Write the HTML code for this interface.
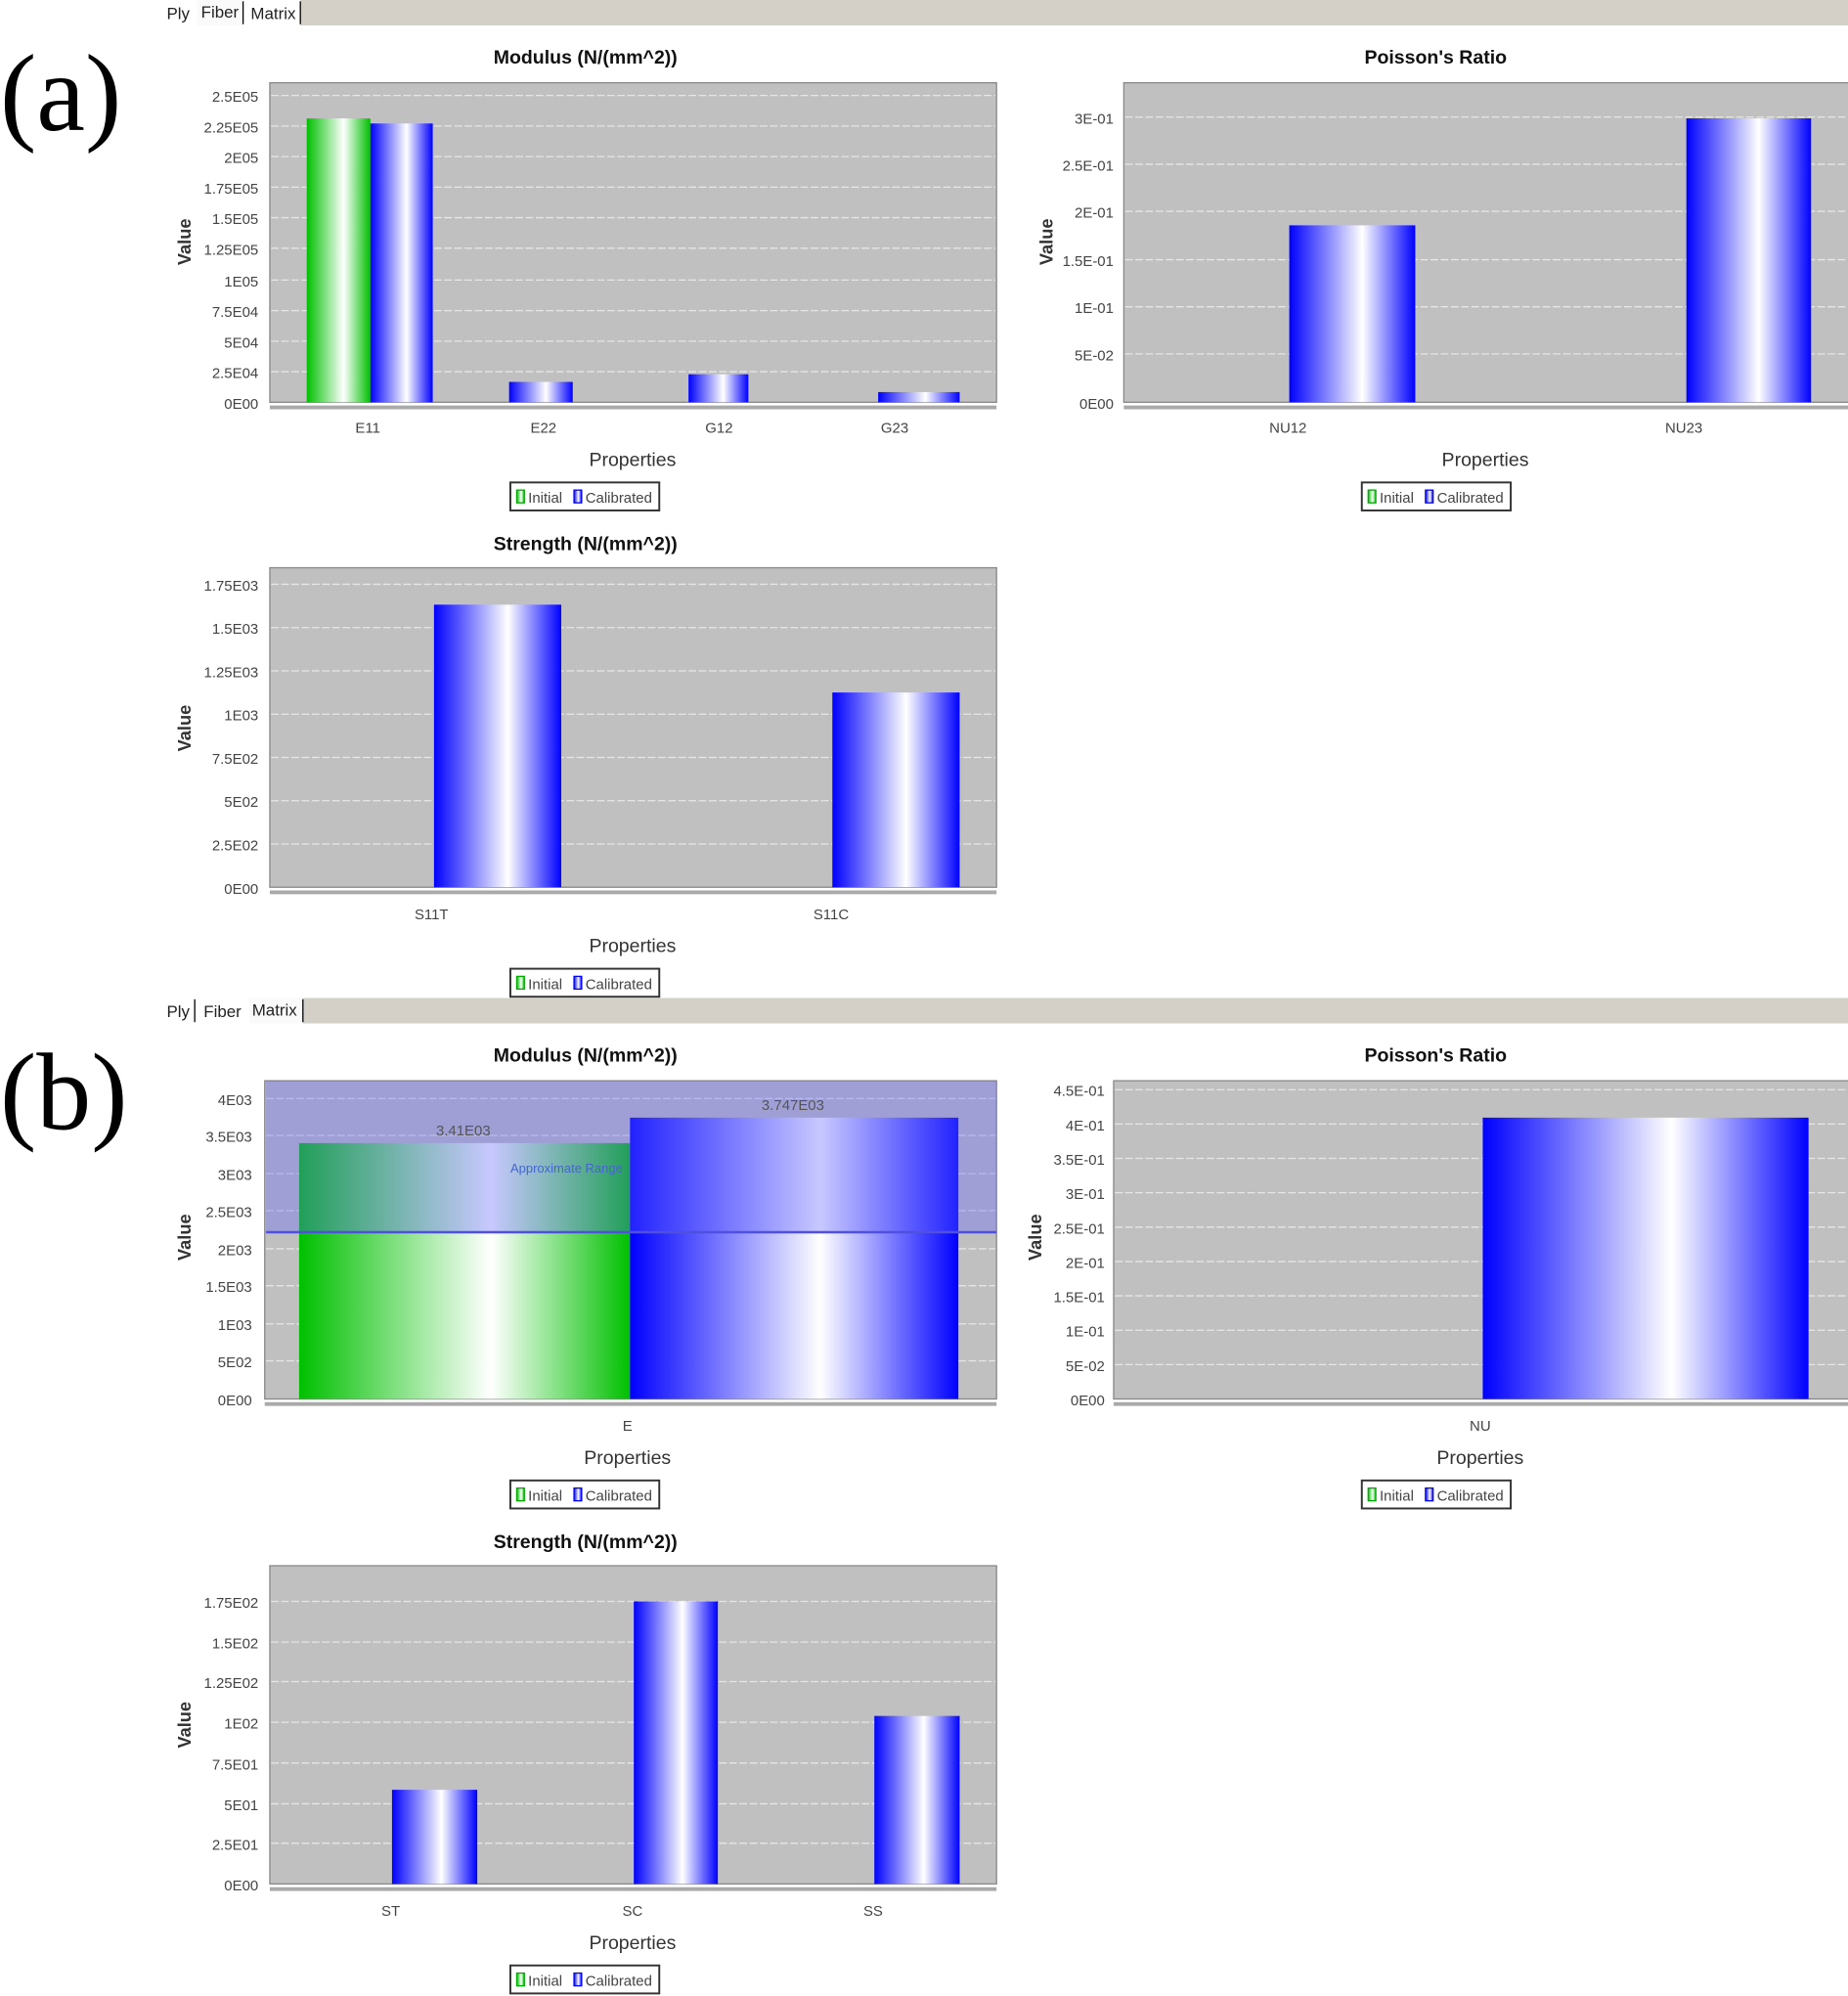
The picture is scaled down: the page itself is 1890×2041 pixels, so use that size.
<!DOCTYPE html>
<html><head><meta charset="utf-8"><style>html,body{margin:0;padding:0;background:#fff}svg{display:block}</style></head>
<body>
<svg width="1890" height="2041" viewBox="0 0 1452 1568" xmlns="http://www.w3.org/2000/svg" font-family="Liberation Sans, sans-serif">
<defs>
<linearGradient id="bl" x1="0" x2="1" y1="0" y2="0"><stop offset="0" stop-color="#0000ff"/><stop offset="0.58" stop-color="#ffffff"/><stop offset="1" stop-color="#0000ff"/></linearGradient>
<linearGradient id="gr" x1="0" x2="1" y1="0" y2="0"><stop offset="0" stop-color="#00c000"/><stop offset="0.58" stop-color="#ffffff"/><stop offset="1" stop-color="#00c000"/></linearGradient>
</defs>
<rect width="1452" height="1568" fill="#fff"/>
<rect x="236" y="0" width="1216" height="20" fill="#d4d0c8"/>
<rect x="155" y="0" width="36" height="20" fill="#fafafa"/>
<line x1="191" y1="1" x2="191" y2="19" stroke="#000"/><line x1="236" y1="1" x2="236" y2="19" stroke="#000"/>
<g font-size="13" fill="#222"><text x="131" y="15">Ply</text><text x="158" y="14">Fiber</text><text x="197" y="15">Matrix</text></g>
<text x="0" y="102" font-family="Liberation Serif, serif" font-size="86">(a)</text>
<rect x="238" y="784" width="1214" height="20" fill="#d4d0c8"/>
<rect x="196" y="784" width="42" height="20" fill="#fafafa"/>
<line x1="153" y1="785" x2="153" y2="803" stroke="#000"/><line x1="238" y1="785" x2="238" y2="803" stroke="#000"/>
<g font-size="13" fill="#222"><text x="131" y="799">Ply</text><text x="160" y="799">Fiber</text><text x="198" y="798">Matrix</text></g>
<text x="0" y="887" font-family="Liberation Serif, serif" font-size="86">(b)</text>

<g font-size="11.5" fill="#444">
<text x="460" y="50" text-anchor="middle" font-size="15" font-weight="bold" fill="#111">Modulus (N/(mm^2))</text>
<rect x="212" y="65" width="571" height="251" fill="#c0c0c0" stroke="#888"/>
<g stroke="#e6e6e6" stroke-dasharray="6,2">
<line x1="213" x2="782" y1="75" y2="75"/><line x1="213" x2="782" y1="99" y2="99"/><line x1="213" x2="782" y1="123" y2="123"/><line x1="213" x2="782" y1="147" y2="147"/><line x1="213" x2="782" y1="171" y2="171"/><line x1="213" x2="782" y1="195" y2="195"/><line x1="213" x2="782" y1="220" y2="220"/><line x1="213" x2="782" y1="244" y2="244"/><line x1="213" x2="782" y1="268" y2="268"/><line x1="213" x2="782" y1="292" y2="292"/></g>
<rect x="241" y="93" width="50" height="223" fill="url(#gr)"/>
<rect x="291" y="97" width="49" height="219" fill="url(#bl)"/>
<rect x="400" y="300" width="50" height="16" fill="url(#bl)"/>
<rect x="541" y="294" width="47" height="22" fill="url(#bl)"/>
<rect x="690" y="308" width="64" height="8" fill="url(#bl)"/>
<line x1="212" x2="783" y1="320" y2="320" stroke="#aaa" stroke-width="3"/>
<g text-anchor="end"><text x="203" y="80">2.5E05</text><text x="203" y="104">2.25E05</text><text x="203" y="128">2E05</text><text x="203" y="152">1.75E05</text><text x="203" y="176">1.5E05</text><text x="203" y="200">1.25E05</text><text x="203" y="225">1E05</text><text x="203" y="249">7.5E04</text><text x="203" y="273">5E04</text><text x="203" y="297">2.5E04</text><text x="203" y="321">0E00</text></g>
<g text-anchor="middle"><text x="289" y="340">E11</text><text x="427" y="340">E22</text><text x="565" y="340">G12</text><text x="703" y="340">G23</text></g>
<text x="497" y="366" text-anchor="middle" font-size="15" fill="#333">Properties</text>
<text transform="translate(150,190) rotate(-90)" text-anchor="middle" font-size="14" font-weight="bold" fill="#333">Value</text>
<rect x="401" y="379" width="117" height="22" fill="#fff" stroke="#333" stroke-width="1.5"/>
<rect x="406" y="385" width="6" height="10" fill="url(#gr)" stroke="#0a0"/><text x="415" y="395">Initial</text>
<rect x="451" y="385" width="6" height="10" fill="url(#bl)" stroke="#00f"/><text x="460" y="395">Calibrated</text>

<text x="1128" y="50" text-anchor="middle" font-size="15" font-weight="bold" fill="#111">Poisson's Ratio</text>
<rect x="883" y="65" width="573" height="251" fill="#c0c0c0" stroke="#888"/>
<g stroke="#e6e6e6" stroke-dasharray="6,2">
<line x1="884" x2="1452" y1="92" y2="92"/><line x1="884" x2="1452" y1="129" y2="129"/><line x1="884" x2="1452" y1="166" y2="166"/><line x1="884" x2="1452" y1="204" y2="204"/><line x1="884" x2="1452" y1="241" y2="241"/><line x1="884" x2="1452" y1="278" y2="278"/></g>
<rect x="1013" y="177" width="99" height="139" fill="url(#bl)"/>
<rect x="1325" y="93" width="98" height="223" fill="url(#bl)"/>
<line x1="883" x2="1452" y1="320" y2="320" stroke="#aaa" stroke-width="3"/>
<g text-anchor="end"><text x="875" y="97">3E-01</text><text x="875" y="134">2.5E-01</text><text x="875" y="171">2E-01</text><text x="875" y="209">1.5E-01</text><text x="875" y="246">1E-01</text><text x="875" y="283">5E-02</text><text x="875" y="321">0E00</text></g>
<g text-anchor="middle"><text x="1012" y="340">NU12</text><text x="1323" y="340">NU23</text></g>
<text x="1167" y="366" text-anchor="middle" font-size="15" fill="#333">Properties</text>
<text transform="translate(827,190) rotate(-90)" text-anchor="middle" font-size="14" font-weight="bold" fill="#333">Value</text>
<rect x="1070" y="379" width="117" height="22" fill="#fff" stroke="#333" stroke-width="1.5"/>
<rect x="1075" y="385" width="6" height="10" fill="url(#gr)" stroke="#0a0"/><text x="1084" y="395">Initial</text>
<rect x="1120" y="385" width="6" height="10" fill="url(#bl)" stroke="#00f"/><text x="1129" y="395">Calibrated</text>

<text x="460" y="432" text-anchor="middle" font-size="15" font-weight="bold" fill="#111">Strength (N/(mm^2))</text>
<rect x="212" y="446" width="571" height="251" fill="#c0c0c0" stroke="#888"/>
<g stroke="#e6e6e6" stroke-dasharray="6,2">
<line x1="213" x2="782" y1="459" y2="459"/><line x1="213" x2="782" y1="493" y2="493"/><line x1="213" x2="782" y1="527" y2="527"/><line x1="213" x2="782" y1="561" y2="561"/><line x1="213" x2="782" y1="595" y2="595"/><line x1="213" x2="782" y1="629" y2="629"/><line x1="213" x2="782" y1="663" y2="663"/></g>
<rect x="341" y="475" width="100" height="222" fill="url(#bl)"/>
<rect x="654" y="544" width="100" height="153" fill="url(#bl)"/>
<line x1="212" x2="783" y1="701" y2="701" stroke="#aaa" stroke-width="3"/>
<g text-anchor="end"><text x="203" y="464">1.75E03</text><text x="203" y="498">1.5E03</text><text x="203" y="532">1.25E03</text><text x="203" y="566">1E03</text><text x="203" y="600">7.5E02</text><text x="203" y="634">5E02</text><text x="203" y="668">2.5E02</text><text x="203" y="702">0E00</text></g>
<g text-anchor="middle"><text x="339" y="722">S11T</text><text x="653" y="722">S11C</text></g>
<text x="497" y="748" text-anchor="middle" font-size="15" fill="#333">Properties</text>
<text transform="translate(150,572) rotate(-90)" text-anchor="middle" font-size="14" font-weight="bold" fill="#333">Value</text>
<rect x="401" y="761" width="117" height="22" fill="#fff" stroke="#333" stroke-width="1.5"/>
<rect x="406" y="767" width="6" height="10" fill="url(#gr)" stroke="#0a0"/><text x="415" y="777">Initial</text>
<rect x="451" y="767" width="6" height="10" fill="url(#bl)" stroke="#00f"/><text x="460" y="777">Calibrated</text>

<text x="460" y="834" text-anchor="middle" font-size="15" font-weight="bold" fill="#111">Modulus (N/(mm^2))</text>
<rect x="208" y="849" width="575" height="250" fill="#c0c0c0" stroke="#888"/>
<g stroke="#e6e6e6" stroke-dasharray="6,2">
<line x1="209" x2="782" y1="863" y2="863"/><line x1="209" x2="782" y1="892" y2="892"/><line x1="209" x2="782" y1="922" y2="922"/><line x1="209" x2="782" y1="951" y2="951"/><line x1="209" x2="782" y1="981" y2="981"/><line x1="209" x2="782" y1="1010" y2="1010"/><line x1="209" x2="782" y1="1040" y2="1040"/><line x1="209" x2="782" y1="1069" y2="1069"/></g>
<rect x="235" y="898" width="260" height="201" fill="url(#gr)"/>
<rect x="495" y="878" width="258" height="221" fill="url(#bl)"/>
<rect x="209" y="849" width="574" height="119" fill="#6060ff" fill-opacity="0.35"/>
<line x1="209" x2="783" y1="968" y2="968" stroke="#5050e0" stroke-width="2"/>
<text x="364" y="892" text-anchor="middle" fill="#555">3.41E03</text>
<text x="623" y="872" text-anchor="middle" fill="#555">3.747E03</text>
<text x="401" y="921" font-size="10" fill="#4466cc">Approximate Range</text>
<line x1="208" x2="783" y1="1103" y2="1103" stroke="#aaa" stroke-width="3"/>
<g text-anchor="end"><text x="198" y="868">4E03</text><text x="198" y="897">3.5E03</text><text x="198" y="927">3E03</text><text x="198" y="956">2.5E03</text><text x="198" y="986">2E03</text><text x="198" y="1015">1.5E03</text><text x="198" y="1045">1E03</text><text x="198" y="1074">5E02</text><text x="198" y="1104">0E00</text></g>
<text x="493" y="1124" text-anchor="middle">E</text>
<text x="493" y="1150" text-anchor="middle" font-size="15" fill="#333">Properties</text>
<text transform="translate(150,972) rotate(-90)" text-anchor="middle" font-size="14" font-weight="bold" fill="#333">Value</text>
<rect x="401" y="1163" width="117" height="22" fill="#fff" stroke="#333" stroke-width="1.5"/>
<rect x="406" y="1169" width="6" height="10" fill="url(#gr)" stroke="#0a0"/><text x="415" y="1179">Initial</text>
<rect x="451" y="1169" width="6" height="10" fill="url(#bl)" stroke="#00f"/><text x="460" y="1179">Calibrated</text>

<text x="1128" y="834" text-anchor="middle" font-size="15" font-weight="bold" fill="#111">Poisson's Ratio</text>
<rect x="875" y="849" width="581" height="250" fill="#c0c0c0" stroke="#888"/>
<g stroke="#e6e6e6" stroke-dasharray="6,2">
<line x1="876" x2="1452" y1="856" y2="856"/><line x1="876" x2="1452" y1="883" y2="883"/><line x1="876" x2="1452" y1="910" y2="910"/><line x1="876" x2="1452" y1="937" y2="937"/><line x1="876" x2="1452" y1="964" y2="964"/><line x1="876" x2="1452" y1="991" y2="991"/><line x1="876" x2="1452" y1="1018" y2="1018"/><line x1="876" x2="1452" y1="1045" y2="1045"/><line x1="876" x2="1452" y1="1072" y2="1072"/></g>
<rect x="1165" y="878" width="256" height="221" fill="url(#bl)"/>
<line x1="875" x2="1452" y1="1103" y2="1103" stroke="#aaa" stroke-width="3"/>
<g text-anchor="end"><text x="868" y="861">4.5E-01</text><text x="868" y="888">4E-01</text><text x="868" y="915">3.5E-01</text><text x="868" y="942">3E-01</text><text x="868" y="969">2.5E-01</text><text x="868" y="996">2E-01</text><text x="868" y="1023">1.5E-01</text><text x="868" y="1050">1E-01</text><text x="868" y="1077">5E-02</text><text x="868" y="1104">0E00</text></g>
<text x="1163" y="1124" text-anchor="middle">NU</text>
<text x="1163" y="1150" text-anchor="middle" font-size="15" fill="#333">Properties</text>
<text transform="translate(818,972) rotate(-90)" text-anchor="middle" font-size="14" font-weight="bold" fill="#333">Value</text>
<rect x="1070" y="1163" width="117" height="22" fill="#fff" stroke="#333" stroke-width="1.5"/>
<rect x="1075" y="1169" width="6" height="10" fill="url(#gr)" stroke="#0a0"/><text x="1084" y="1179">Initial</text>
<rect x="1120" y="1169" width="6" height="10" fill="url(#bl)" stroke="#00f"/><text x="1129" y="1179">Calibrated</text>

<text x="460" y="1216" text-anchor="middle" font-size="15" font-weight="bold" fill="#111">Strength (N/(mm^2))</text>
<rect x="212" y="1230" width="571" height="250" fill="#c0c0c0" stroke="#888"/>
<g stroke="#e6e6e6" stroke-dasharray="6,2">
<line x1="213" x2="782" y1="1258" y2="1258"/><line x1="213" x2="782" y1="1290" y2="1290"/><line x1="213" x2="782" y1="1321" y2="1321"/><line x1="213" x2="782" y1="1353" y2="1353"/><line x1="213" x2="782" y1="1385" y2="1385"/><line x1="213" x2="782" y1="1417" y2="1417"/><line x1="213" x2="782" y1="1448" y2="1448"/></g>
<rect x="308" y="1406" width="67" height="74" fill="url(#bl)"/>
<rect x="498" y="1258" width="66" height="222" fill="url(#bl)"/>
<rect x="687" y="1348" width="67" height="132" fill="url(#bl)"/>
<line x1="212" x2="783" y1="1484" y2="1484" stroke="#aaa" stroke-width="3"/>
<g text-anchor="end"><text x="203" y="1263">1.75E02</text><text x="203" y="1295">1.5E02</text><text x="203" y="1326">1.25E02</text><text x="203" y="1358">1E02</text><text x="203" y="1390">7.5E01</text><text x="203" y="1422">5E01</text><text x="203" y="1453">2.5E01</text><text x="203" y="1485">0E00</text></g>
<g text-anchor="middle"><text x="307" y="1505">ST</text><text x="497" y="1505">SC</text><text x="686" y="1505">SS</text></g>
<text x="497" y="1531" text-anchor="middle" font-size="15" fill="#333">Properties</text>
<text transform="translate(150,1355) rotate(-90)" text-anchor="middle" font-size="14" font-weight="bold" fill="#333">Value</text>
<rect x="401" y="1544" width="117" height="22" fill="#fff" stroke="#333" stroke-width="1.5"/>
<rect x="406" y="1550" width="6" height="10" fill="url(#gr)" stroke="#0a0"/><text x="415" y="1560">Initial</text>
<rect x="451" y="1550" width="6" height="10" fill="url(#bl)" stroke="#00f"/><text x="460" y="1560">Calibrated</text>
</g>
</svg>
</body></html>
